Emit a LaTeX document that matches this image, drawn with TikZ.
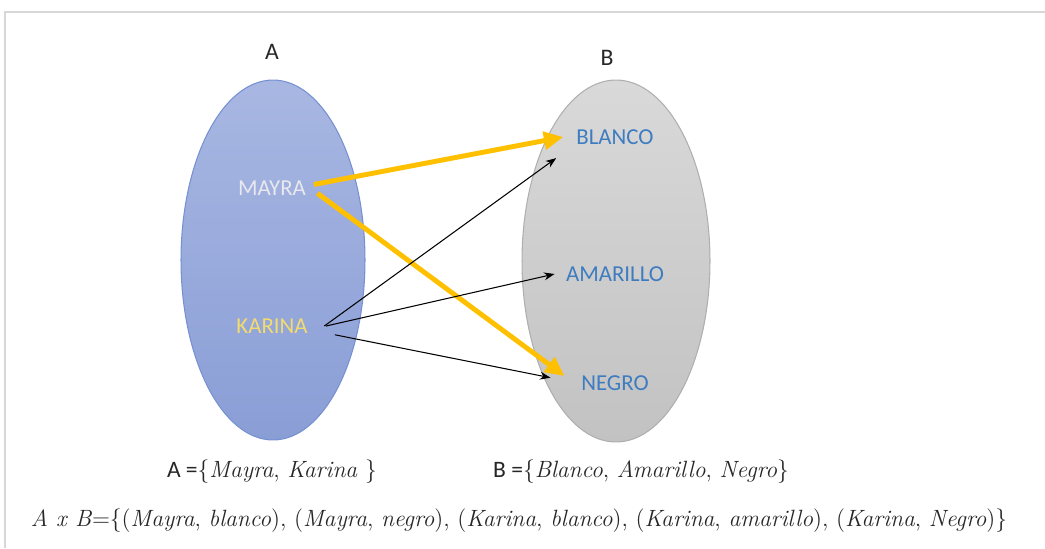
\documentclass[tikz,border=0pt]{standalone}
\usepackage{fontspec}
\newfontfamily\calibri{Carlito}
\usepackage{xcolor}
\usetikzlibrary{arrows.meta,positioning,shapes}

\definecolor{blueTop}{RGB}{168,183,226}
\definecolor{blueBot}{RGB}{138,158,214}
\definecolor{blueEdge}{RGB}{118,145,210}
\definecolor{greyTop}{RGB}{217,217,217}
\definecolor{greyBot}{RGB}{194,194,194}
\definecolor{greyEdge}{RGB}{175,175,175}
\definecolor{elemBlue}{RGB}{62,124,192}
\definecolor{nameWhite}{RGB}{232,232,238}
\definecolor{nameYellow}{RGB}{242,220,110}
\definecolor{gold}{RGB}{255,192,0}
\definecolor{frameGrey}{RGB}{215,215,215}

\newcommand{\iw}[1]{\textit{#1}}

\begin{document}
\begin{tikzpicture}[x=0.02cm,y=-0.02cm,node distance=0.8cm]
	\tikzstyle{set}
	  =[draw, ellipse, line width=0.6pt, minimum width=3.68cm,
	  minimum height=7.2cm]
	\tikzstyle{elem}
	  =[font=\calibri\fontsize{13}{15}\selectfont, text=elemBlue]
	\tikzstyle{setname}
	  =[font=\calibri\fontsize{13.5}{15}\selectfont, text=black!85]
	\tikzstyle{pick}
	  =[draw=gold, line width=2.8pt, -{Triangle[length=11pt,width=10pt]}]
	\tikzstyle{pair}
	  =[draw=black, line width=0.6pt, -{Stealth[length=6pt,width=4.5pt]}]
	\tikzstyle{formula}
	  =[font=\fontsize{13.4}{15}\selectfont, text=black!85, inner sep=0pt]

	\useasboundingbox (0,0) rectangle (1045,548);
	\draw[frameGrey, line width=1.2pt] (5,548) -- (5,12) -- (1045,12);

	% the two sets
	\node[set, draw=blueEdge, top color=blueTop, bottom color=blueBot] (setA)
	  at (273,260) {};
	\node[set, draw=greyEdge, top color=greyTop, bottom color=greyBot,
	  minimum width=3.76cm, minimum height=7.24cm] (setB)
	  at (616,261) {};
	\node[setname] (nameA)
	  at (272,52) {A};
	\node[setname] (nameB)
	  at (607,58) {B};

	% elements
	\node[elem, text=nameWhite] (mayra)
	  at (272,188) {MAYRA};
	\node[elem, text=nameYellow] (karina)
	  at (272,326) {KARINA};
	\node[elem] (blanco)
	  at (615,137) {BLANCO};
	\node[elem] (amarillo)
	  at (615,274) {AMARILLO};
	\node[elem] (negro)
	  at (615,383) {NEGRO};

	% pairs
	\draw[pick] ([xshift=1pt,yshift=2pt]mayra.east) -- ([xshift=-4pt]blanco.west);
	\draw[pick] ([xshift=3pt,yshift=-3pt]mayra.east) -- ([xshift=-6pt,yshift=4pt]negro.west);
	\draw[pair] ([xshift=6pt]karina.east) -- ([xshift=-8pt,yshift=-12pt]blanco.west);
	\draw[pair] ([xshift=7pt]karina.east) -- ([xshift=-3pt]amarillo.west);
	\draw[pair] ([xshift=12pt,yshift=-5pt]karina.east) -- ([xshift=-14pt,yshift=3pt]negro.west);

	% set definitions
	\node[formula] (defA)
	  at (272,472) {{\calibri A =}\{\iw{Mayra}, \iw{Karina} \}};
	\node[formula] (defB)
	  at (641,472) {{\calibri B =}\{\iw{Blanco}, \iw{Amarillo}, \iw{Negro}\}};
	\node[formula] (prod)
	  at (519,521) {\iw{A x B}=\{(\iw{Mayra}, \iw{blanco}), (\iw{Mayra}, \iw{negro}),
	  (\iw{Karina}, \iw{blanco}), (\iw{Karina}, \iw{amarillo}), (\iw{Karina}, \iw{Negro})\}};
\end{tikzpicture}
\end{document}
